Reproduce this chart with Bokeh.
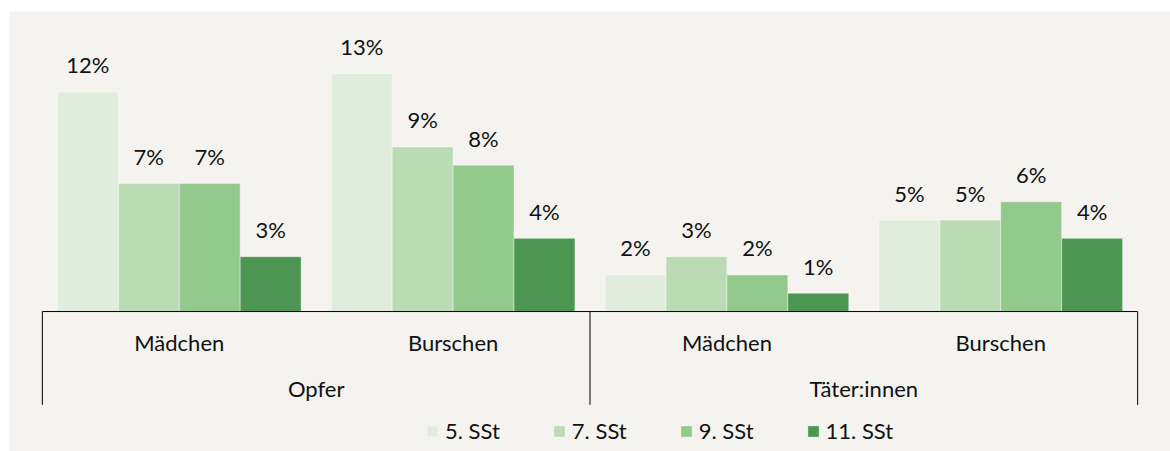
from bokeh.plotting import figure
from bokeh.models import FactorRange, Range1d, ColumnDataSource, Legend, LegendItem
from bokeh.transform import dodge
from bokeh.core.properties import value
from bokeh.embed import file_html
from bokeh.resources import INLINE

groups = ["Opfer", "Täter:innen"]
subgroups = ["Mädchen", "Burschen"]
series = ["5. SSt", "7. SSt", "9. SSt", "11. SSt"]
colors = ["#E0EDDC", "#BBDBB5", "#94C98D", "#4D9552"]
v_5 = [12, 13, 2, 5]
v_7 = [7, 9, 3, 5]
v_9 = [7, 8, 2, 6]
v_11 = [3, 4, 1, 4]
values = [v_5, v_7, v_9, v_11]

factors = [(g, s) for g in groups for s in subgroups]

FONT = "Lato"
FS = "22px"
TXT = "#111111"

p = figure(width=1170, height=451, output_backend="svg", toolbar_location=None,
           x_range=FactorRange(*factors, group_padding=0, factor_padding=0,
                               range_padding=0.12, range_padding_units="absolute"),
           y_range=Range1d(-7.65, 16.4),
           x_axis_location=None, y_axis_location=None,
           min_border_left=9, min_border_top=11, min_border_right=0, min_border_bottom=0,
           border_fill_color="white", background_fill_color="#F4F3EF",
           outline_line_color=None)
p.xgrid.visible = False
p.ygrid.visible = False

bw = 0.89 / 4
offsets = [(-1.5 + i) * bw for i in range(4)]
renderers = []
for i, (name, vals, col) in enumerate(zip(series, values, colors)):
    src = ColumnDataSource(dict(x=factors, top=vals,
                                lbl=[f"{v}%" for v in vals]))
    r = p.vbar(x=dodge("x", offsets[i], range=p.x_range), top="top", bottom=0,
               width=bw, source=src, fill_color=col,
               line_color="white", line_alpha=0.4, line_width=1)
    renderers.append(r)
    p.text(x=dodge("x", offsets[i], range=p.x_range), y="top", text="lbl",
           source=src, text_align="center", text_baseline="alphabetic",
           y_offset=-27, text_font=value(FONT), text_font_size=FS,
           text_color=TXT)

# axis line across the full category extent
p.segment(x0=dodge("a", -0.5, range=p.x_range), x1=dodge("b", 0.5, range=p.x_range),
          y0=0, y1=0, source=ColumnDataSource(dict(a=[factors[0]], b=[factors[-1]])),
          line_color="black", line_width=1)
# group separators
for xs, off in [([factors[0], factors[2]], -0.5), ([factors[3]], 0.5)]:
    p.segment(x0=dodge("x", off, range=p.x_range), x1=dodge("x", off, range=p.x_range),
              y0=0, y1=-5.1, source=ColumnDataSource(dict(x=xs)),
              line_color="black", line_width=1)

# category labels
p.text(x=factors, y=[0] * 4, text=[s for g, s in factors], text_align="center",
       text_baseline="alphabetic", y_offset=31, text_font=value(FONT),
       text_font_size=FS, text_color=TXT)
p.text(x=groups, y=[0] * 2, text=groups, text_align="center",
       text_baseline="alphabetic", y_offset=77, text_font=value(FONT),
       text_font_size=FS, text_color=TXT)

legend = Legend(items=[LegendItem(label=s, renderers=[r]) for s, r in zip(series, renderers)],
                orientation="horizontal", location=(416, 7),
                glyph_width=14, glyph_height=14, label_standoff=6, spacing=52,
                padding=0, margin=0, border_line_color=None,
                background_fill_alpha=0,
                label_text_font=FONT, label_text_font_size=FS,
                label_text_color=TXT)
p.add_layout(legend)

open("out.html", "w").write(file_html(p, INLINE))
